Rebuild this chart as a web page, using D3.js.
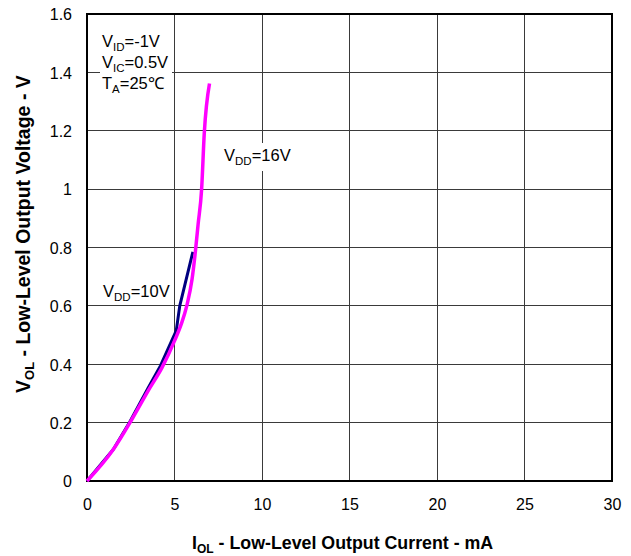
<!DOCTYPE html>
<html>
<head>
<meta charset="utf-8">
<script src="https://cdn.jsdelivr.net/npm/d3@7"></script>
<style>
  html, body { margin: 0; padding: 0; background: #fff; }
  svg { display: block; font-family: "Liberation Sans", Arial, sans-serif; }
</style>
</head>
<body>
<svg id="chart" width="631" height="556"></svg>
<script>
// ---- data ----
const xTicks = [0, 5, 10, 15, 20, 25, 30];
const yTicks = [0, 0.2, 0.4, 0.6, 0.8, 1, 1.2, 1.4, 1.6];
const yTickLabels = ["0", "0.2", "0.4", "0.6", "0.8", "1", "1.2", "1.4", "1.6"];

// VDD = 10 V (navy)
const vdd10_I = [0, 1.5, 2.45, 3.5, 4.2, 5.1, 5.3, 6.05];
const vdd10_V = [0, 0.108, 0.203, 0.32, 0.395, 0.515, 0.6, 0.785];
// VDD = 16 V (magenta)
const vdd16_I = [0, 1.5, 2.6, 3.5, 4.3, 5.0, 5.4, 5.7, 6.0, 6.2, 6.35, 6.55, 6.7, 7.0];
const vdd16_V = [0, 0.108, 0.215, 0.31, 0.39, 0.48, 0.54, 0.6, 0.69, 0.79, 0.88, 1.0, 1.19, 1.362];

// ---- layout ----
const L = 87, R = 612, T = 14, B = 481;
const svg = d3.select("#chart");
const x = d3.scaleLinear().domain([0, 30]).range([L, R]);
const y = d3.scaleLinear().domain([0, 1.6]).range([B, T]);

// grid
const grid = svg.append("g");
grid.selectAll(".gx").data(xTicks.slice(1, -1)).enter().append("line")
  .attr("x1", d => x(d)).attr("x2", d => x(d)).attr("y1", T).attr("y2", B)
  .attr("stroke", "#3a3a3a").attr("stroke-width", 1).attr("shape-rendering", "crispEdges");
grid.selectAll(".gy").data(yTicks.slice(1, -1)).enter().append("line")
  .attr("x1", L).attr("x2", R).attr("y1", d => y(d)).attr("y2", d => y(d))
  .attr("stroke", "#3a3a3a").attr("stroke-width", 1).attr("shape-rendering", "crispEdges");

// white label boxes covering grid
svg.append("rect").attr("x", 100).attr("y", 28).attr("width", 72).attr("height", 67).attr("fill", "#fff");
svg.append("rect").attr("x", 220).attr("y", 143).attr("width", 80).attr("height", 28).attr("fill", "#fff");

// frame
svg.append("rect").attr("x", L).attr("y", T).attr("width", R - L).attr("height", B - T)
  .attr("fill", "none").attr("stroke", "#000").attr("stroke-width", 2);

// axes (labels only)
const xAxis = d3.axisBottom(x).tickValues(xTicks).tickSize(0).tickPadding(0).tickFormat(d3.format("d"));
const gx = svg.append("g").attr("transform", `translate(0,${B})`).call(xAxis);
gx.select(".domain").remove();
gx.selectAll("text").attr("y", 29).attr("dy", null)
  .attr("font-size", "16px").attr("font-family", "Liberation Sans, Arial, sans-serif").attr("fill", "#000");

const yAxis = d3.axisLeft(y).tickValues(yTicks).tickSize(0).tickPadding(0)
  .tickFormat((d, i) => yTickLabels[i]);
const gy = svg.append("g").attr("transform", `translate(72,0)`).call(yAxis);
gy.select(".domain").remove();
gy.selectAll("text").attr("x", 0).attr("dy", "0.36em")
  .attr("font-size", "16px").attr("font-family", "Liberation Sans, Arial, sans-serif").attr("fill", "#000");

// curves
const line = d3.line().x(d => x(d[0])).y(d => y(d[1]));
svg.append("path").datum(d3.zip(vdd10_I, vdd10_V))
  .attr("d", line.curve(d3.curveLinear))
  .attr("fill", "none").attr("stroke", "#000080").attr("stroke-width", 3).attr("stroke-linejoin", "round");
svg.append("path").datum(d3.zip(vdd16_I, vdd16_V))
  .attr("d", line.curve(d3.curveMonotoneX))
  .attr("fill", "none").attr("stroke", "#ff00ff").attr("stroke-width", 3.5).attr("stroke-linejoin", "round");

// annotation helper: main text + subscript + rest
function subText(xp, yp, main, sub, rest, fs, ss, bold) {
  const t = svg.append("text").attr("x", xp).attr("y", yp)
    .attr("font-size", fs + "px").attr("fill", "#000");
  if (bold) t.attr("font-weight", "bold");
  t.append("tspan").text(main);
  t.append("tspan").attr("font-size", ss + "px").attr("dy", 4).text(sub);
  t.append("tspan").attr("dy", -4).text(rest);
  return t;
}
subText(102, 47, "V", "ID", "=-1V", 16.5, 11.5);
subText(102, 68, "V", "IC", "=0.5V", 16.5, 11.5);
subText(102, 89, "T", "A", "=25℃", 16.5, 11.5);
subText(224, 161, "V", "DD", "=16V", 16.5, 11.5);
subText(103, 297, "V", "DD", "=10V", 16.5, 11.5);

// axis titles
subText(192, 549, "I", "OL", " - Low-Level Output Current - mA", 17.8, 12, true);
const yt = subText(0, 0, "V", "OL", " - Low-Level Output Voltage - V", 19.5, 13, true);
yt.attr("transform", "translate(30,393) rotate(-90)");
</script>
</body>
</html>
